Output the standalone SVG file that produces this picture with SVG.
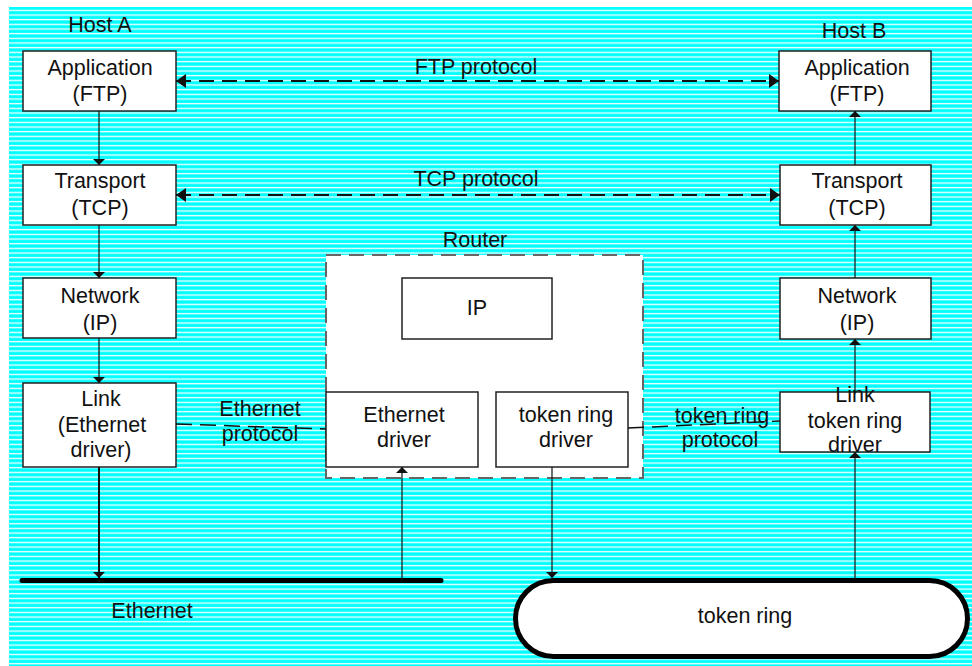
<svg xmlns="http://www.w3.org/2000/svg" width="972" height="666" viewBox="0 0 972 666">
  <style>
    text { font-family: "Liberation Sans", Arial, sans-serif; font-size: 21.5px; fill: #111; text-anchor: middle; }
    .box { fill: #fff; stroke: #222; stroke-width: 1.5; }
    .router { fill: #fff; stroke: #666; stroke-width: 2; stroke-dasharray: 15 8; }
    .up, .down { stroke: #111; stroke-width: 1.2; fill: none; }
    .thick { stroke: #111; stroke-width: 2; fill: none; }
    .proto { stroke: #111; stroke-width: 2; fill: none; stroke-dasharray: 15 8; }
    .peer { stroke: #111; stroke-width: 1.5; fill: none; stroke-dasharray: 16 8; }
    .bus { stroke: #000; stroke-width: 5; stroke-linecap: round; fill: none; }
    .ring { fill: #fff; stroke: #000; stroke-width: 5; }
  </style>
  <defs>
    <pattern id="hatch" patternUnits="userSpaceOnUse" x="0" y="7" width="20" height="4.667">
      <rect width="20" height="4.667" fill="#00ffff"/>
      <rect y="2.7" width="20" height="1.3" fill="#fff"/>
    </pattern>
    <marker id="tip" viewBox="0 0 6 12" refX="6" refY="6" markerWidth="6" markerHeight="12" markerUnits="userSpaceOnUse" orient="auto">
      <path d="M0,0 L6,6 L0,12 z" fill="#111"/>
    </marker>
    <marker id="big" viewBox="0 0 10 14" refX="10" refY="7" markerWidth="10" markerHeight="14" markerUnits="userSpaceOnUse" orient="auto-start-reverse">
      <path d="M0,0 L10,7 L0,14 z" fill="#111"/>
    </marker>
  </defs>

  <rect x="0" y="0" width="972" height="666" fill="#fff"/>
  <rect x="9" y="7" width="963" height="659" fill="url(#hatch)"/>

  <!-- labels -->
  <text x="100" y="32">Host A</text>
  <text x="854" y="38">Host B</text>
  <text x="475" y="247">Router</text>

  <!-- router enclosure -->
  <g id="router">
    <rect class="router" x="326" y="255" width="317" height="223"/>
  </g>

  <!-- Host A stack -->
  <g id="a-app"><rect class="box" x="23" y="51" width="153" height="60"/><text x="100" y="75">Application</text><text x="100" y="101">(FTP)</text></g>
  <g id="a-transport"><rect class="box" x="23" y="165" width="153" height="60"/><text x="100" y="188">Transport</text><text x="100" y="215">(TCP)</text></g>
  <g id="a-network"><rect class="box" x="23" y="278" width="153" height="60"/><text x="100" y="303">Network</text><text x="100" y="330">(IP)</text></g>
  <g id="a-link"><rect class="box" x="23" y="383" width="153" height="84"/><text x="101" y="406">Link</text><text x="102" y="432">(Ethernet</text><text x="101" y="457">driver)</text></g>

  <!-- Host B stack -->
  <g id="b-app"><rect class="box" x="779" y="51" width="152" height="60"/><text x="857" y="75">Application</text><text x="857" y="101">(FTP)</text></g>
  <g id="b-transport"><rect class="box" x="780" y="165" width="151" height="60"/><text x="857" y="188">Transport</text><text x="857" y="215">(TCP)</text></g>
  <g id="b-network"><rect class="box" x="780" y="278" width="151" height="61"/><text x="857" y="303">Network</text><text x="857" y="330">(IP)</text></g>
  <g id="b-link"><rect class="box" x="780" y="392" width="150" height="60"/><text x="855" y="402">Link</text><text x="855" y="428">token ring</text><text x="855" y="452">driver</text></g>

  <!-- Router internals -->
  <g id="r-ip"><rect class="box" x="402" y="278" width="150" height="61"/><text x="477" y="315">IP</text></g>
  <g id="r-eth"><rect class="box" x="326" y="392" width="152" height="75"/><text x="404" y="422">Ethernet</text><text x="404" y="447">driver</text></g>
  <g id="r-tr"><rect class="box" x="496" y="392" width="132" height="75"/><text x="566" y="422">token ring</text><text x="566" y="447">driver</text></g>

  <!-- networks -->
  <g id="ethernet">
    <line class="bus" x1="22" y1="580.5" x2="441" y2="580.5"/>
    <text x="152" y="618">Ethernet</text>
  </g>
  <g id="token-ring">
    <rect class="ring" x="515.5" y="580.5" width="452" height="76" rx="38" ry="38"/>
    <text x="745" y="623">token ring</text>
  </g>

  <!-- connectors -->
  <g id="connectors">
    <line class="down" x1="99" y1="111" x2="99" y2="165" marker-end="url(#tip)"/>
    <line class="down" x1="99" y1="225" x2="99" y2="278" marker-end="url(#tip)"/>
    <line class="down" x1="99" y1="338" x2="99" y2="383" marker-end="url(#tip)"/>
    <line class="thick" x1="99" y1="467" x2="99" y2="578" marker-end="url(#tip)"/>

    <line class="up" x1="402" y1="580" x2="402" y2="467" marker-end="url(#tip)"/>
    <line class="down" x1="552" y1="467" x2="552" y2="578" marker-end="url(#tip)"/>

    <line class="up" x1="855" y1="578" x2="855" y2="452" marker-end="url(#tip)"/>
    <line class="up" x1="855" y1="392" x2="855" y2="339" marker-end="url(#tip)"/>
    <line class="up" x1="855" y1="278" x2="855" y2="225" marker-end="url(#tip)"/>
    <line class="up" x1="855" y1="165" x2="855" y2="111" marker-end="url(#tip)"/>

    <line class="proto" x1="176" y1="81" x2="779" y2="81" marker-start="url(#big)" marker-end="url(#big)"/>
    <text x="476" y="74">FTP protocol</text>
    <line class="proto" x1="176" y1="195" x2="780" y2="195" marker-start="url(#big)" marker-end="url(#big)"/>
    <text x="476" y="186">TCP protocol</text>

    <line class="peer" x1="176" y1="424" x2="326" y2="429"/>
    <text x="260" y="416">Ethernet</text>
    <text x="260" y="441">protocol</text>

    <line class="peer" x1="628" y1="428" x2="780" y2="421"/>
    <text x="722" y="423">token ring</text>
    <text x="720" y="447">protocol</text>
  </g>
</svg>
